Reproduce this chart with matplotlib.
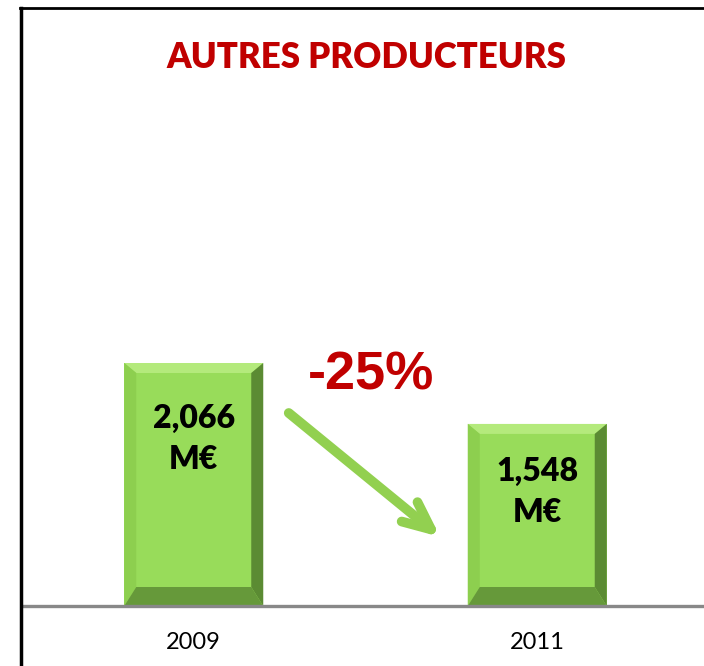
import matplotlib
matplotlib.use("Agg")
import matplotlib.pyplot as plt
from matplotlib.patches import Polygon
from matplotlib.lines import Line2D

categories = ["2009", "2011"]
values = [2066, 1548]
value_labels = ["2,066\nM€", "1,548\nM€"]
title = "AUTRES PRODUCTEURS"
change_label = "-25%"

W, H = 704, 666
fig = plt.figure(figsize=(W / 100, H / 100), dpi=100)
fig.patch.set_facecolor("white")

k = 243 / 2066.0  # px per unit
step = 343.5      # px per category
ymax = 4500
ax_h = ymax * k
ax_left = 22
ax = fig.add_axes([ax_left / W, (H - 606) / H, 2 * step / W, ax_h / H])
ax.set_xlim(-0.5, 1.5)
ax.set_ylim(0, ymax)
ax.patch.set_alpha(0)
for s in ax.spines.values():
    s.set_visible(False)
ax.set_yticks([])

xs = list(range(len(categories)))
bw = 139 / step
bars = ax.bar(xs, values, width=bw, color="#98dc5a", edgecolor="none", zorder=2)

# bevel
dx = 12 / step
dyt = 10 / k
dyb = 19 / k
for b in bars:
    x0, x1 = b.get_x(), b.get_x() + b.get_width()
    y0, y1 = 0, b.get_height()
    ix0, ix1 = x0 + dx, x1 - dx
    iy0, iy1 = y0 + dyb, y1 - dyt
    ax.add_patch(Polygon([(x0, y1), (x1, y1), (ix1, iy1), (ix0, iy1)], closed=True,
                         facecolor="#b4ea7c", edgecolor="none", zorder=3))
    ax.add_patch(Polygon([(x0, y0), (x0, y1), (ix0, iy1), (ix0, iy0)], closed=True,
                         facecolor="#8dcf4f", edgecolor="none", zorder=3))
    ax.add_patch(Polygon([(x1, y0), (x1, y1), (ix1, iy1), (ix1, iy0)], closed=True,
                         facecolor="#5b8b33", edgecolor="none", zorder=3))
    ax.add_patch(Polygon([(x0, y0), (x1, y0), (ix1, iy0), (ix0, iy0)], closed=True,
                         facecolor="#66993a", edgecolor="none", zorder=3))

# value labels (offset of label centre below bar top, px)
label_drop = [76, 68]
for x, v, lab, d in zip(xs, values, value_labels, label_drop):
    ax.text(x, v - d / k, lab, ha="center", va="center", fontsize=23,
            fontweight="heavy", family="Lato", color="black", linespacing=1.5, zorder=5)

# baseline
ax.axhline(0, color="#888888", lw=2.4, zorder=4, clip_on=False)

# x tick labels
ax.set_xticks(xs)
ax.set_xticklabels(categories, fontsize=17, family="Lato", color="black")
ax.tick_params(axis="x", length=0, pad=19)

# title
fig.text(366 / W, 1 - 58 / H, title, ha="center", va="center", fontsize=25,
         fontweight="heavy", family="Lato", color="#c00000")

# change label and arrow
ax.text(0.5 + 5 / step, values[0] - 13 / k, change_label, ha="center", va="center",
        fontsize=39, fontweight="bold", family="Liberation Sans", color="#c00000")
ax.annotate("", xy=(1.0 - 97 / step, values[1] - 113 / k),
            xytext=(0.0 + 95 / step, values[0] - 50 / k),
            arrowprops=dict(arrowstyle="->,head_length=2.0,head_width=0.9",
                            color="#92d050", lw=7, capstyle="round",
                            joinstyle="round", shrinkA=0, shrinkB=0), zorder=6)

# frame lines
fig.add_artist(Line2D([21 / W, 21 / W], [0, 1 - 8 / H], color="black", lw=2.5))
fig.add_artist(Line2D([20 / W, 1], [1 - 8 / H, 1 - 8 / H], color="black", lw=2))

fig.savefig("out.png", dpi=100)
